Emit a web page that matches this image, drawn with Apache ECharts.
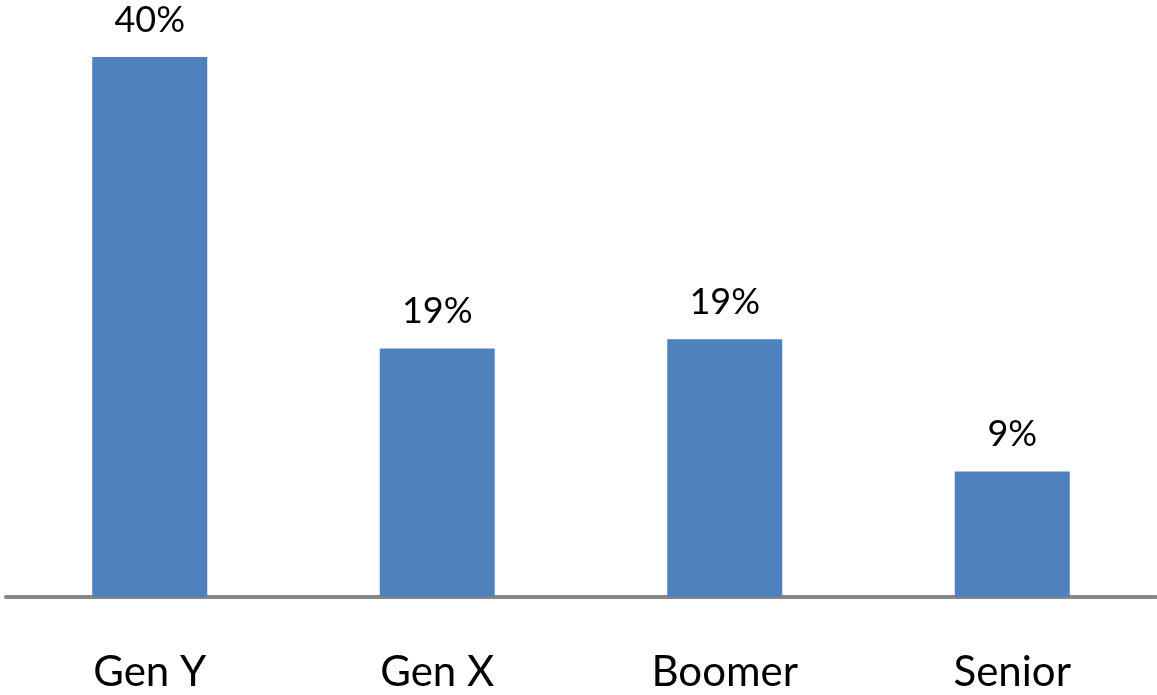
<!DOCTYPE html>
<html>
<head>
<meta charset="utf-8">
<script src="https://cdn.jsdelivr.net/npm/echarts@6/dist/echarts.min.js"></script>
<style>
html,body{margin:0;padding:0;background:#fff;}
#chart{width:1157px;height:695px;}
</style>
</head>
<body>
<div id="chart"></div>
<script>
const categories = ['Gen Y', 'Gen X', 'Boomer', 'Senior'];
const values = [40, 18.4, 19.1, 9.3];
const valueLabels = ['40%', '19%', '19%', '9%'];

const chart = echarts.init(document.getElementById('chart'), null, {renderer: 'canvas'});
chart.setOption({
  animation: false,
  backgroundColor: '#ffffff',
  grid: {left: 6, right: 1, top: 57, bottom: 98, containLabel: false},
  xAxis: {
    type: 'category',
    data: categories,
    axisLine: {show: true, lineStyle: {color: '#878787', width: 4}},
    axisTick: {show: false},
    axisLabel: {
      color: '#000000',
      fontFamily: 'Lato',
      fontSize: 42,
      margin: 54
    }
  },
  yAxis: {
    type: 'value',
    min: 0,
    max: 40,
    show: false,
    splitLine: {show: false}
  },
  series: [{
    type: 'bar',
    data: values,
    barWidth: '40%',
    itemStyle: {color: '#4F81BD'},
    label: {
      show: true,
      position: 'top',
      distance: 19,
      color: '#000000',
      fontFamily: 'Lato',
      fontSize: 36,
      formatter: function (p) { return valueLabels[p.dataIndex]; }
    }
  }]
});
</script>
</body>
</html>
